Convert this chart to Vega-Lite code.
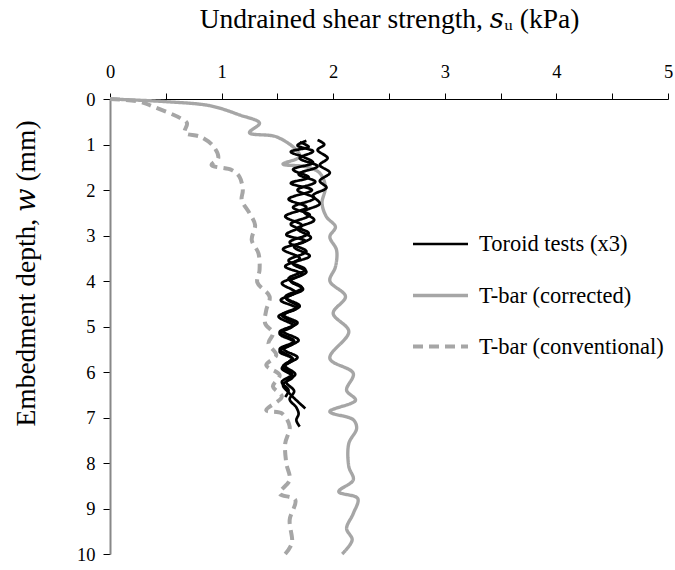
{
  "$schema": "https://vega.github.io/schema/vega-lite/v6.json",
  "width": 558,
  "height": 455,
  "autosize": {"type": "none"},
  "padding": {"left": 110, "top": 99, "right": 7, "bottom": 16},
  "background": "white",
  "config": {
    "view": {"stroke": null},
    "font": "Liberation Serif",
    "axis": {"labelFont": "Liberation Serif", "titleFont": "Liberation Serif, DejaVu Serif", "labelColor": "#000", "titleColor": "#000", "titleFontWeight": "normal", "grid": false},
    "legend": {"labelFont": "Liberation Serif", "labelColor": "#000"}
  },
  "data": {
    "values": [
      {"series": "T-bar (corrected)", "test": "c", "s": 0.0, "d": 0.0},
      {"series": "T-bar (corrected)", "test": "c", "s": 0.51, "d": 0.06},
      {"series": "T-bar (corrected)", "test": "c", "s": 0.9, "d": 0.15},
      {"series": "T-bar (corrected)", "test": "c", "s": 1.16, "d": 0.35},
      {"series": "T-bar (corrected)", "test": "c", "s": 1.34, "d": 0.53},
      {"series": "T-bar (corrected)", "test": "c", "s": 1.25, "d": 0.74},
      {"series": "T-bar (corrected)", "test": "c", "s": 1.49, "d": 0.83},
      {"series": "T-bar (corrected)", "test": "c", "s": 1.67, "d": 1.12},
      {"series": "T-bar (corrected)", "test": "c", "s": 1.7, "d": 1.27},
      {"series": "T-bar (corrected)", "test": "c", "s": 1.55, "d": 1.43},
      {"series": "T-bar (corrected)", "test": "c", "s": 1.76, "d": 1.49},
      {"series": "T-bar (corrected)", "test": "c", "s": 1.88, "d": 1.63},
      {"series": "T-bar (corrected)", "test": "c", "s": 1.93, "d": 1.93},
      {"series": "T-bar (corrected)", "test": "c", "s": 1.9, "d": 2.29},
      {"series": "T-bar (corrected)", "test": "c", "s": 1.94, "d": 2.59},
      {"series": "T-bar (corrected)", "test": "c", "s": 2.02, "d": 2.81},
      {"series": "T-bar (corrected)", "test": "c", "s": 1.97, "d": 3.03},
      {"series": "T-bar (corrected)", "test": "c", "s": 2.03, "d": 3.32},
      {"series": "T-bar (corrected)", "test": "c", "s": 2.02, "d": 3.69},
      {"series": "T-bar (corrected)", "test": "c", "s": 1.97, "d": 4.0},
      {"series": "T-bar (corrected)", "test": "c", "s": 2.11, "d": 4.34},
      {"series": "T-bar (corrected)", "test": "c", "s": 2.0, "d": 4.71},
      {"series": "T-bar (corrected)", "test": "c", "s": 2.14, "d": 5.11},
      {"series": "T-bar (corrected)", "test": "c", "s": 1.97, "d": 5.7},
      {"series": "T-bar (corrected)", "test": "c", "s": 2.18, "d": 6.03},
      {"series": "T-bar (corrected)", "test": "c", "s": 2.12, "d": 6.4},
      {"series": "T-bar (corrected)", "test": "c", "s": 2.2, "d": 6.62},
      {"series": "T-bar (corrected)", "test": "c", "s": 1.97, "d": 6.87},
      {"series": "T-bar (corrected)", "test": "c", "s": 2.18, "d": 7.05},
      {"series": "T-bar (corrected)", "test": "c", "s": 2.21, "d": 7.24},
      {"series": "T-bar (corrected)", "test": "c", "s": 2.14, "d": 7.57},
      {"series": "T-bar (corrected)", "test": "c", "s": 2.14, "d": 8.08},
      {"series": "T-bar (corrected)", "test": "c", "s": 2.18, "d": 8.37},
      {"series": "T-bar (corrected)", "test": "c", "s": 2.05, "d": 8.63},
      {"series": "T-bar (corrected)", "test": "c", "s": 2.22, "d": 8.78},
      {"series": "T-bar (corrected)", "test": "c", "s": 2.18, "d": 9.11},
      {"series": "T-bar (corrected)", "test": "c", "s": 2.12, "d": 9.44},
      {"series": "T-bar (corrected)", "test": "c", "s": 2.17, "d": 9.69},
      {"series": "T-bar (corrected)", "test": "c", "s": 2.08, "d": 10.0},

      {"series": "T-bar (conventional)", "test": "v", "s": 0.0, "d": 0.0},
      {"series": "T-bar (conventional)", "test": "v", "s": 0.27, "d": 0.06},
      {"series": "T-bar (conventional)", "test": "v", "s": 0.39, "d": 0.17},
      {"series": "T-bar (conventional)", "test": "v", "s": 0.63, "d": 0.42},
      {"series": "T-bar (conventional)", "test": "v", "s": 0.69, "d": 0.53},
      {"series": "T-bar (conventional)", "test": "v", "s": 0.67, "d": 0.74},
      {"series": "T-bar (conventional)", "test": "v", "s": 0.81, "d": 0.83},
      {"series": "T-bar (conventional)", "test": "v", "s": 0.93, "d": 1.05},
      {"series": "T-bar (conventional)", "test": "v", "s": 0.97, "d": 1.3},
      {"series": "T-bar (conventional)", "test": "v", "s": 0.91, "d": 1.45},
      {"series": "T-bar (conventional)", "test": "v", "s": 1.09, "d": 1.56},
      {"series": "T-bar (conventional)", "test": "v", "s": 1.16, "d": 1.71},
      {"series": "T-bar (conventional)", "test": "v", "s": 1.19, "d": 2.0},
      {"series": "T-bar (conventional)", "test": "v", "s": 1.18, "d": 2.22},
      {"series": "T-bar (conventional)", "test": "v", "s": 1.25, "d": 2.51},
      {"series": "T-bar (conventional)", "test": "v", "s": 1.3, "d": 2.77},
      {"series": "T-bar (conventional)", "test": "v", "s": 1.27, "d": 3.1},
      {"series": "T-bar (conventional)", "test": "v", "s": 1.33, "d": 3.39},
      {"series": "T-bar (conventional)", "test": "v", "s": 1.34, "d": 3.76},
      {"series": "T-bar (conventional)", "test": "v", "s": 1.32, "d": 4.03},
      {"series": "T-bar (conventional)", "test": "v", "s": 1.43, "d": 4.34},
      {"series": "T-bar (conventional)", "test": "v", "s": 1.4, "d": 4.64},
      {"series": "T-bar (conventional)", "test": "v", "s": 1.39, "d": 4.93},
      {"series": "T-bar (conventional)", "test": "v", "s": 1.46, "d": 5.15},
      {"series": "T-bar (conventional)", "test": "v", "s": 1.42, "d": 5.37},
      {"series": "T-bar (conventional)", "test": "v", "s": 1.49, "d": 5.63},
      {"series": "T-bar (conventional)", "test": "v", "s": 1.4, "d": 5.85},
      {"series": "T-bar (conventional)", "test": "v", "s": 1.52, "d": 6.07},
      {"series": "T-bar (conventional)", "test": "v", "s": 1.46, "d": 6.32},
      {"series": "T-bar (conventional)", "test": "v", "s": 1.54, "d": 6.54},
      {"series": "T-bar (conventional)", "test": "v", "s": 1.4, "d": 6.84},
      {"series": "T-bar (conventional)", "test": "v", "s": 1.54, "d": 6.91},
      {"series": "T-bar (conventional)", "test": "v", "s": 1.61, "d": 7.2},
      {"series": "T-bar (conventional)", "test": "v", "s": 1.57, "d": 7.57},
      {"series": "T-bar (conventional)", "test": "v", "s": 1.58, "d": 8.01},
      {"series": "T-bar (conventional)", "test": "v", "s": 1.61, "d": 8.37},
      {"series": "T-bar (conventional)", "test": "v", "s": 1.52, "d": 8.67},
      {"series": "T-bar (conventional)", "test": "v", "s": 1.66, "d": 8.81},
      {"series": "T-bar (conventional)", "test": "v", "s": 1.61, "d": 9.25},
      {"series": "T-bar (conventional)", "test": "v", "s": 1.63, "d": 9.76},
      {"series": "T-bar (conventional)", "test": "v", "s": 1.57, "d": 10.0},

      {"series": "Toroid tests (x3)", "test": "t1", "s": 1.70, "d": 0.95},
      {"series": "Toroid tests (x3)", "test": "t1", "s": 1.78, "d": 1.05},
      {"series": "Toroid tests (x3)", "test": "t1", "s": 1.62, "d": 1.16},
      {"series": "Toroid tests (x3)", "test": "t1", "s": 1.74, "d": 1.28},
      {"series": "Toroid tests (x3)", "test": "t1", "s": 1.82, "d": 1.40},
      {"series": "Toroid tests (x3)", "test": "t1", "s": 1.64, "d": 1.55},
      {"series": "Toroid tests (x3)", "test": "t1", "s": 1.78, "d": 1.72},
      {"series": "Toroid tests (x3)", "test": "t1", "s": 1.62, "d": 1.85},
      {"series": "Toroid tests (x3)", "test": "t1", "s": 1.81, "d": 2.00},
      {"series": "Toroid tests (x3)", "test": "t1", "s": 1.60, "d": 2.20},
      {"series": "Toroid tests (x3)", "test": "t1", "s": 1.76, "d": 2.38},
      {"series": "Toroid tests (x3)", "test": "t1", "s": 1.57, "d": 2.58},
      {"series": "Toroid tests (x3)", "test": "t1", "s": 1.72, "d": 2.78},
      {"series": "Toroid tests (x3)", "test": "t1", "s": 1.58, "d": 2.98},
      {"series": "Toroid tests (x3)", "test": "t1", "s": 1.75, "d": 3.12},
      {"series": "Toroid tests (x3)", "test": "t1", "s": 1.55, "d": 3.30},
      {"series": "Toroid tests (x3)", "test": "t1", "s": 1.70, "d": 3.50},
      {"series": "Toroid tests (x3)", "test": "t1", "s": 1.57, "d": 3.68},
      {"series": "Toroid tests (x3)", "test": "t1", "s": 1.72, "d": 3.85},
      {"series": "Toroid tests (x3)", "test": "t1", "s": 1.54, "d": 4.05},
      {"series": "Toroid tests (x3)", "test": "t1", "s": 1.66, "d": 4.25},
      {"series": "Toroid tests (x3)", "test": "t1", "s": 1.53, "d": 4.42},
      {"series": "Toroid tests (x3)", "test": "t1", "s": 1.67, "d": 4.60},
      {"series": "Toroid tests (x3)", "test": "t1", "s": 1.51, "d": 4.78},
      {"series": "Toroid tests (x3)", "test": "t1", "s": 1.64, "d": 4.98},
      {"series": "Toroid tests (x3)", "test": "t1", "s": 1.52, "d": 5.16},
      {"series": "Toroid tests (x3)", "test": "t1", "s": 1.65, "d": 5.35},
      {"series": "Toroid tests (x3)", "test": "t1", "s": 1.52, "d": 5.55},
      {"series": "Toroid tests (x3)", "test": "t1", "s": 1.64, "d": 5.72},
      {"series": "Toroid tests (x3)", "test": "t1", "s": 1.54, "d": 5.92},
      {"series": "Toroid tests (x3)", "test": "t1", "s": 1.64, "d": 6.10},
      {"series": "Toroid tests (x3)", "test": "t1", "s": 1.55, "d": 6.28},
      {"series": "Toroid tests (x3)", "test": "t1", "s": 1.60, "d": 6.45},
      {"series": "Toroid tests (x3)", "test": "t1", "s": 1.75, "d": 6.80},

      {"series": "Toroid tests (x3)", "test": "t2", "s": 1.76, "d": 0.92},
      {"series": "Toroid tests (x3)", "test": "t2", "s": 1.68, "d": 1.02},
      {"series": "Toroid tests (x3)", "test": "t2", "s": 1.82, "d": 1.15},
      {"series": "Toroid tests (x3)", "test": "t2", "s": 1.70, "d": 1.30},
      {"series": "Toroid tests (x3)", "test": "t2", "s": 1.86, "d": 1.48},
      {"series": "Toroid tests (x3)", "test": "t2", "s": 1.69, "d": 1.65},
      {"series": "Toroid tests (x3)", "test": "t2", "s": 1.84, "d": 1.82},
      {"series": "Toroid tests (x3)", "test": "t2", "s": 1.68, "d": 2.00},
      {"series": "Toroid tests (x3)", "test": "t2", "s": 1.83, "d": 2.18},
      {"series": "Toroid tests (x3)", "test": "t2", "s": 1.64, "d": 2.38},
      {"series": "Toroid tests (x3)", "test": "t2", "s": 1.79, "d": 2.55},
      {"series": "Toroid tests (x3)", "test": "t2", "s": 1.62, "d": 2.75},
      {"series": "Toroid tests (x3)", "test": "t2", "s": 1.78, "d": 2.95},
      {"series": "Toroid tests (x3)", "test": "t2", "s": 1.61, "d": 3.15},
      {"series": "Toroid tests (x3)", "test": "t2", "s": 1.76, "d": 3.35},
      {"series": "Toroid tests (x3)", "test": "t2", "s": 1.60, "d": 3.55},
      {"series": "Toroid tests (x3)", "test": "t2", "s": 1.75, "d": 3.75},
      {"series": "Toroid tests (x3)", "test": "t2", "s": 1.60, "d": 3.95},
      {"series": "Toroid tests (x3)", "test": "t2", "s": 1.72, "d": 4.15},
      {"series": "Toroid tests (x3)", "test": "t2", "s": 1.57, "d": 4.35},
      {"series": "Toroid tests (x3)", "test": "t2", "s": 1.70, "d": 4.55},
      {"series": "Toroid tests (x3)", "test": "t2", "s": 1.56, "d": 4.75},
      {"series": "Toroid tests (x3)", "test": "t2", "s": 1.68, "d": 4.92},
      {"series": "Toroid tests (x3)", "test": "t2", "s": 1.55, "d": 5.10},
      {"series": "Toroid tests (x3)", "test": "t2", "s": 1.69, "d": 5.30},
      {"series": "Toroid tests (x3)", "test": "t2", "s": 1.56, "d": 5.50},
      {"series": "Toroid tests (x3)", "test": "t2", "s": 1.68, "d": 5.68},
      {"series": "Toroid tests (x3)", "test": "t2", "s": 1.57, "d": 5.86},
      {"series": "Toroid tests (x3)", "test": "t2", "s": 1.66, "d": 6.05},
      {"series": "Toroid tests (x3)", "test": "t2", "s": 1.58, "d": 6.22},
      {"series": "Toroid tests (x3)", "test": "t2", "s": 1.65, "d": 6.42},
      {"series": "Toroid tests (x3)", "test": "t2", "s": 1.61, "d": 6.60},
      {"series": "Toroid tests (x3)", "test": "t2", "s": 1.67, "d": 6.78},
      {"series": "Toroid tests (x3)", "test": "t2", "s": 1.69, "d": 6.92},
      {"series": "Toroid tests (x3)", "test": "t2", "s": 1.67, "d": 7.06},
      {"series": "Toroid tests (x3)", "test": "t2", "s": 1.70, "d": 7.20},

      {"series": "Toroid tests (x3)", "test": "t3", "s": 1.86, "d": 0.90},
      {"series": "Toroid tests (x3)", "test": "t3", "s": 1.92, "d": 1.00},
      {"series": "Toroid tests (x3)", "test": "t3", "s": 1.86, "d": 1.12},
      {"series": "Toroid tests (x3)", "test": "t3", "s": 1.95, "d": 1.30},
      {"series": "Toroid tests (x3)", "test": "t3", "s": 1.88, "d": 1.45},
      {"series": "Toroid tests (x3)", "test": "t3", "s": 1.97, "d": 1.62},
      {"series": "Toroid tests (x3)", "test": "t3", "s": 1.88, "d": 1.80},
      {"series": "Toroid tests (x3)", "test": "t3", "s": 1.94, "d": 1.95},
      {"series": "Toroid tests (x3)", "test": "t3", "s": 1.82, "d": 2.12},
      {"series": "Toroid tests (x3)", "test": "t3", "s": 1.88, "d": 2.30},
      {"series": "Toroid tests (x3)", "test": "t3", "s": 1.74, "d": 2.48},
      {"series": "Toroid tests (x3)", "test": "t3", "s": 1.83, "d": 2.66},
      {"series": "Toroid tests (x3)", "test": "t3", "s": 1.68, "d": 2.85},
      {"series": "Toroid tests (x3)", "test": "t3", "s": 1.80, "d": 3.05},
      {"series": "Toroid tests (x3)", "test": "t3", "s": 1.65, "d": 3.25},
      {"series": "Toroid tests (x3)", "test": "t3", "s": 1.79, "d": 3.45},
      {"series": "Toroid tests (x3)", "test": "t3", "s": 1.64, "d": 3.62},
      {"series": "Toroid tests (x3)", "test": "t3", "s": 1.76, "d": 3.80},
      {"series": "Toroid tests (x3)", "test": "t3", "s": 1.62, "d": 4.00},
      {"series": "Toroid tests (x3)", "test": "t3", "s": 1.73, "d": 4.18},
      {"series": "Toroid tests (x3)", "test": "t3", "s": 1.58, "d": 4.38},
      {"series": "Toroid tests (x3)", "test": "t3", "s": 1.68, "d": 4.56},
      {"series": "Toroid tests (x3)", "test": "t3", "s": 1.54, "d": 4.75},
      {"series": "Toroid tests (x3)", "test": "t3", "s": 1.66, "d": 4.95},
      {"series": "Toroid tests (x3)", "test": "t3", "s": 1.52, "d": 5.12},
      {"series": "Toroid tests (x3)", "test": "t3", "s": 1.65, "d": 5.32},
      {"series": "Toroid tests (x3)", "test": "t3", "s": 1.52, "d": 5.50},
      {"series": "Toroid tests (x3)", "test": "t3", "s": 1.63, "d": 5.70},
      {"series": "Toroid tests (x3)", "test": "t3", "s": 1.55, "d": 5.88},
      {"series": "Toroid tests (x3)", "test": "t3", "s": 1.63, "d": 6.05},
      {"series": "Toroid tests (x3)", "test": "t3", "s": 1.54, "d": 6.22},
      {"series": "Toroid tests (x3)", "test": "t3", "s": 1.60, "d": 6.40},
      {"series": "Toroid tests (x3)", "test": "t3", "s": 1.57, "d": 6.55}
    ]
  },
  "mark": {"type": "line", "interpolate": "catmull-rom", "strokeCap": "butt", "strokeJoin": "round"},
  "encoding": {
    "x": {
      "field": "s", "type": "quantitative",
      "scale": {"domain": [0, 5], "nice": false, "zero": false},
      "axis": {
        "orient": "top",
        "title": "Undrained shear strength, 𝑠ᵤ (kPa)",
        "titleFontSize": 27.5,
        "titlePadding": 29,
        "values": [0, 0.5, 1, 1.5, 2, 2.5, 3, 3.5, 4, 4.5, 5],
        "labelExpr": "datum.value % 1 === 0 ? format(datum.value, 'd') : ''",
        "labelFontSize": 18.5,
        "labelPadding": 12,
        "tickSize": 6,
        "tickColor": "#000",
        "domainColor": "#000",
        "labelFlush": false,
        "labelOverlap": false
      }
    },
    "y": {
      "field": "d", "type": "quantitative",
      "scale": {"domain": [0, 10], "reverse": true, "nice": false, "zero": false},
      "axis": {
        "title": "Embedment depth,  𝑤  (mm)",
        "titleFontSize": 27.5,
        "titlePadding": 36,
        "titleY": 174,
        "values": [0, 1, 2, 3, 4, 5, 6, 7, 8, 9, 10],
        "labelFontSize": 18.5,
        "labelPadding": 8,
        "tickSize": 7,
        "tickColor": "#000",
        "domainColor": "#888",
        "domainWidth": 2,
        "labelFlush": false,
        "labelOverlap": false
      }
    },
    "detail": {"field": "test"},
    "order": {"field": "d", "type": "quantitative"},
    "color": {
      "field": "series", "type": "nominal",
      "scale": {"domain": ["Toroid tests (x3)", "T-bar (corrected)", "T-bar (conventional)"], "range": ["#000000", "#a6a6a6", "#a6a6a6"]},
      "legend": {
        "title": null,
        "orient": "none",
        "legendX": 301,
        "legendY": 116,
        "symbolType": "stroke",
        "symbolSize": 3025,
        "symbolStrokeWidth": 3,
        "labelFontSize": 22.5,
        "labelLimit": 400,
        "labelOffset": 9,
        "rowPadding": 10,
        "padding": 0
      }
    },
    "strokeDash": {
      "field": "series", "type": "nominal",
      "scale": {"domain": ["Toroid tests (x3)", "T-bar (corrected)", "T-bar (conventional)"], "range": [[1, 0], [1, 0], [10, 6]]},
      "legend": {
        "title": null,
        "orient": "none",
        "legendX": 301,
        "legendY": 116,
        "symbolType": "stroke",
        "symbolSize": 3025,
        "symbolStrokeWidth": 3,
        "labelFontSize": 22.5,
        "labelLimit": 400,
        "labelOffset": 9,
        "rowPadding": 10,
        "padding": 0
      }
    },
    "strokeWidth": {
      "field": "series", "type": "nominal",
      "scale": {"domain": ["Toroid tests (x3)", "T-bar (corrected)", "T-bar (conventional)"], "range": [2.7, 4, 4]},
      "legend": null
    }
  }
}
